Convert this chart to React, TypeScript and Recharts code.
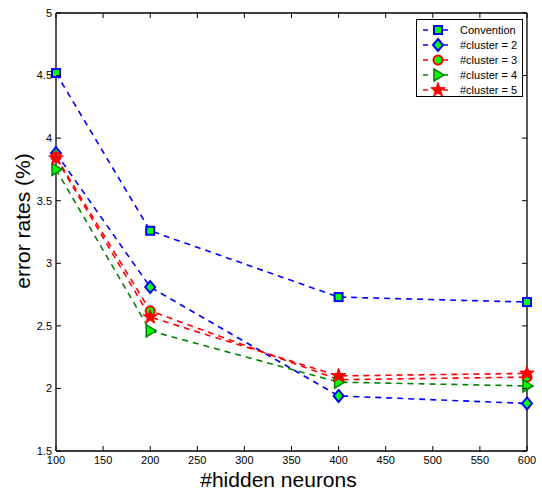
import { LineChart, Line, XAxis, YAxis } from 'recharts';

const hiddenNeurons = [100, 200, 400, 600];
const convention = [4.52, 3.26, 2.73, 2.69];
const cluster2 = [3.88, 2.81, 1.94, 1.88];
const cluster3 = [3.85, 2.62, 2.07, 2.09];
const cluster4 = [3.75, 2.46, 2.05, 2.02];
const cluster5 = [3.84, 2.57, 2.1, 2.12];

const xTicks = [100, 150, 200, 250, 300, 350, 400, 450, 500, 550, 600];
const yTicks = [1.5, 2, 2.5, 3, 3.5, 4, 4.5, 5];

const seriesNames = ['Convention', '#cluster = 2', '#cluster = 3', '#cluster = 4', '#cluster = 5'];

const data = hiddenNeurons.map((n, i) => ({
  n,
  c1: convention[i],
  c2: cluster2[i],
  c3: cluster3[i],
  c4: cluster4[i],
  c5: cluster5[i],
}));

const FONT = '"Liberation Sans", Arial, sans-serif';
const BLUE = '#0000ff';
const RED = '#ff0000';
const GREEN = '#008000';
const LIME = '#00ff00';
const DASH = '6 5';
const TM = 4;

const starPoints = (cx: number, cy: number, r: number) => {
  const pts: string[] = [];
  for (let k = 0; k < 10; k++) {
    const rad = k % 2 === 0 ? r : r * 0.4;
    const a = -Math.PI / 2 + (k * Math.PI) / 5;
    pts.push(`${cx + rad * Math.cos(a)},${cy + rad * Math.sin(a)}`);
  }
  return pts.join(' ');
};

const marker = (kind: string, cx: number, cy: number, key?: any) => {
  switch (kind) {
    case 'square':
      return <rect key={key} x={cx - 4} y={cy - 4} width={8} height={8} fill={LIME} stroke={BLUE} strokeWidth={2} />;
    case 'diamond':
      return <polygon key={key} points={`${cx},${cy - 6} ${cx + 5},${cy} ${cx},${cy + 6} ${cx - 5},${cy}`} fill={LIME} stroke={BLUE} strokeWidth={2} />;
    case 'circle':
      return <circle key={key} cx={cx} cy={cy} r={4.5} fill={LIME} stroke={RED} strokeWidth={2} />;
    case 'triangle':
      return <polygon key={key} points={`${cx - 4},${cy - 6} ${cx + 6},${cy} ${cx - 4},${cy + 6}`} fill={LIME} stroke={GREEN} strokeWidth={1.5} />;
    default:
      return <polygon key={key} points={starPoints(cx, cy, 7.5)} fill={RED} stroke={RED} strokeWidth={1} />;
  }
};

const dotFor = (kind: string) => (props: any) => marker(kind, props.cx, props.cy, props.index);

const series = [
  { key: 'c1', color: BLUE, kind: 'square' },
  { key: 'c2', color: BLUE, kind: 'diamond' },
  { key: 'c3', color: RED, kind: 'circle' },
  { key: 'c4', color: GREEN, kind: 'triangle' },
  { key: 'c5', color: RED, kind: 'star' },
];

const XTick = (props: any) => {
  const { x, y, payload } = props;
  return (
    <g>
      <line x1={x} x2={x} y1={y - TM} y2={y - TM - 5} stroke="#000" />
      <text x={x} y={y} dy="0.85em" textAnchor="middle" fontSize={11} fontFamily={FONT} fill="#000">
        {payload.value}
      </text>
    </g>
  );
};

const YTick = (props: any) => {
  const { x, y, payload } = props;
  return (
    <g>
      <line x1={x + TM} x2={x + TM + 5} y1={y} y2={y} stroke="#000" />
      <text x={x} y={y} dy="0.35em" textAnchor="end" fontSize={11} fontFamily={FONT} fill="#000">
        {payload.value}
      </text>
    </g>
  );
};

const TopTick = (props: any) => {
  const { x, y } = props;
  return <line x1={x} x2={x} y1={y} y2={y + 5} stroke="#000" />;
};

const RightTick = (props: any) => {
  const { x, y } = props;
  return <line x1={x - 5} x2={x} y1={y} y2={y} stroke="#000" />;
};

const legendKinds = ['square', 'diamond', 'circle', 'triangle', 'star'];
const legendColors = [BLUE, BLUE, RED, GREEN, RED];

const axisStroke = { stroke: '#000', strokeWidth: 1.3 };

export default function App() {
  return (
    <div style={{ position: 'absolute', left: 0, top: 0, width: 542, height: 491, background: '#fff' }}>
      <LineChart width={542} height={491} data={data} margin={{ top: 12, right: 14, left: 0, bottom: 0 }}>
        <XAxis
          dataKey="n"
          type="number"
          domain={[100, 600]}
          ticks={xTicks}
          height={40}
          tickSize={0}
          tickMargin={TM}
          tick={<XTick />}
          axisLine={axisStroke}
          label={{
            content: (p: any) => {
              const vb = p.viewBox;
              return (
                <text x={vb.x + vb.width / 2 - 13} y={vb.y + 36} textAnchor="middle" fontSize={21} fontFamily={FONT} fill="#000">
                  #hidden neurons
                </text>
              );
            },
          }}
        />
        <XAxis
          xAxisId="top"
          orientation="top"
          dataKey="n"
          type="number"
          domain={[100, 600]}
          ticks={xTicks}
          height={1}
          tickSize={0}
          tickMargin={0}
          tick={<TopTick />}
          axisLine={axisStroke}
        />
        <YAxis
          type="number"
          domain={[1.5, 5]}
          ticks={yTicks}
          width={56}
          tickSize={0}
          tickMargin={TM}
          tick={<YTick />}
          axisLine={axisStroke}
          label={{
            content: (p: any) => {
              const vb = p.viewBox;
              const cx = vb.x + 22;
              const cy = vb.y + vb.height / 2 - 11;
              return (
                <text x={cx} y={cy} transform={`rotate(-90 ${cx} ${cy})`} textAnchor="middle" dominantBaseline="central" fontSize={21} fontFamily={FONT} fill="#000">
                  error rates (%)
                </text>
              );
            },
          }}
        />
        <YAxis
          yAxisId="right"
          orientation="right"
          type="number"
          domain={[1.5, 5]}
          ticks={yTicks}
          width={1}
          tickSize={0}
          tickMargin={0}
          tick={<RightTick />}
          axisLine={axisStroke}
        />
        {/* invisible series so the top and right frame axes get drawn */}
        <Line
          xAxisId="top"
          yAxisId="right"
          dataKey="c1"
          stroke="none"
          dot={false}
          activeDot={false}
          legendType="none"
          isAnimationActive={false}
        />
        {series.map((s, i) => (
          <Line
            key={s.key}
            dataKey={s.key}
            name={seriesNames[i]}
            stroke={s.color}
            strokeWidth={1.6}
            strokeDasharray={DASH}
            dot={dotFor(s.kind)}
            activeDot={false}
            isAnimationActive={false}
          />
        ))}
      </LineChart>
      <div
        style={{
          position: 'absolute',
          left: 416,
          top: 19,
          width: 107,
          height: 78,
          border: '1px solid #000',
          boxSizing: 'border-box',
          background: '#fff',
          fontFamily: FONT,
          fontSize: 11,
        }}
      >
        {seriesNames.map((name, i) => (
          <div key={name} style={{ position: 'absolute', left: 0, top: 3 + i * 15, height: 14, display: 'flex', alignItems: 'center' }}>
            <svg width={42} height={16} style={{ display: 'block' }}>
              <line x1={6} x2={36} y1={8} y2={8} stroke={legendColors[i]} strokeWidth={1.6} strokeDasharray="5 5" />
              {marker(legendKinds[i], 21, 8)}
            </svg>
            <span style={{ marginLeft: 1, whiteSpace: 'nowrap', color: '#000' }}>{name}</span>
          </div>
        ))}
      </div>
    </div>
  );
}
